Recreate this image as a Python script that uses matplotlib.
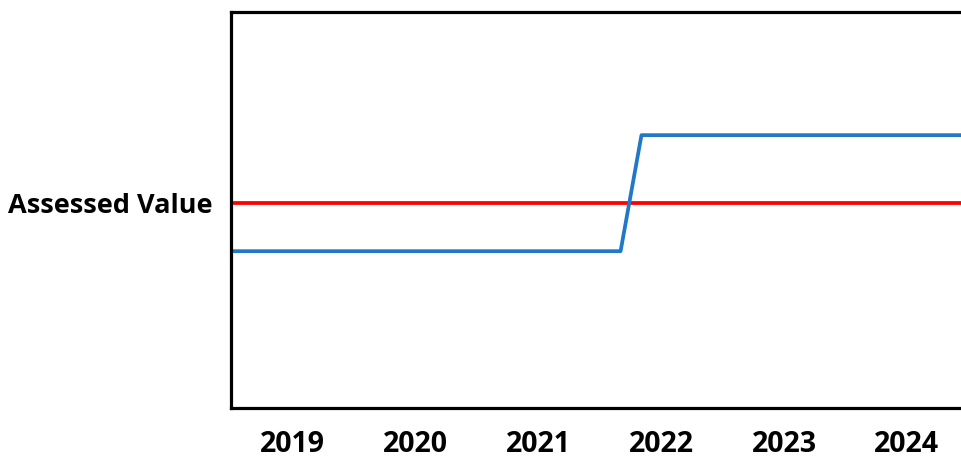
import matplotlib
matplotlib.use('Agg')
import matplotlib.pyplot as plt

years = [2019, 2020, 2021, 2022, 2023, 2024]
year_labels = ['2019', '2020', '2021', '2022', '2023', '2024']

# assessed value stays flat
assessed_x = [2018.5, 2024.5]
assessed_y = [51.8, 51.8]

# market value jumps during 2021-2022
market_x = [2018.5, 2021.67, 2021.84, 2024.5]
market_y = [39.6, 39.6, 68.9, 68.9]

fig = plt.figure(figsize=(9.61, 4.57), dpi=100)
ax = fig.add_axes([231 / 961, 49 / 457, 1 - 231 / 961, 396 / 457])

ax.plot(assessed_x, assessed_y, color='#ff0000', linewidth=2.7, solid_capstyle='butt')
ax.plot(market_x, market_y, color='#1f78c8', linewidth=2.7, solid_capstyle='butt')

ax.set_xlim(2018.5, 2024.44)
ax.set_ylim(0, 100)

ax.set_xticks(years)
ax.set_xticklabels(year_labels)
ax.set_yticks([assessed_y[0]])
ax.set_yticklabels(['Assessed Value'])
ax.tick_params(length=0)
ax.tick_params(axis='x', pad=15.5)
ax.tick_params(axis='y', pad=13)
for lbl in ax.get_xticklabels():
    lbl.set_fontfamily('Open Sans')
    lbl.set_fontweight('bold')
    lbl.set_fontsize(20.5)
for lbl in ax.get_yticklabels():
    lbl.set_fontfamily('Open Sans')
    lbl.set_fontweight('bold')
    lbl.set_fontsize(19.5)

for side in ['left', 'bottom', 'top']:
    ax.spines[side].set_linewidth(2.3)
    ax.spines[side].set_color('black')
ax.spines['right'].set_visible(False)

fig.savefig('out.png', dpi=100)
